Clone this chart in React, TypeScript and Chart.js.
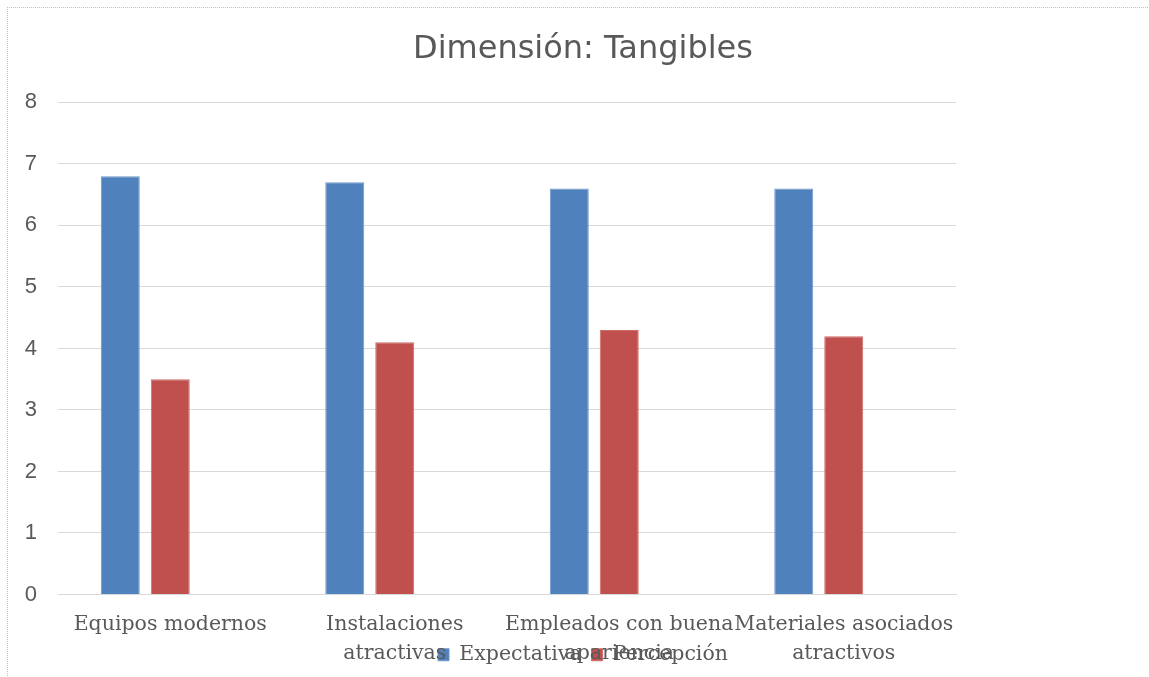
import React, { useEffect, useRef } from "react";
import { Chart, registerables } from "chart.js";

Chart.register(...registerables);

const categories: (string | string[])[] = [
  "Equipos modernos",
  ["Instalaciones", "atractivas"],
  ["Empleados con buena", "apariencia"],
  ["Materiales asociados", "atractivos"],
];
const expectativa = [6.8, 6.7, 6.6, 6.6];
const percepcion = [3.5, 4.1, 4.3, 4.2];
const emptySeries: (number | null)[] = [null, null, null, null];
const yTicks = [0, 1, 2, 3, 4, 5, 6, 7, 8];

const TEXT = "#595959";
const SERIF = "'DejaVu Serif', serif";

const overlapPlugin = {
  id: "overlapLabels",
  afterLayout(chart: any) {
    const x = chart.scales.x;
    if (x) x.bottom = chart.height;
  },
};

export default function App() {
  const ref = useRef<HTMLCanvasElement | null>(null);
  useEffect(() => {
    if (!ref.current) return;
    const chart = new Chart(ref.current, {
      type: "bar",
      plugins: [overlapPlugin],
      data: {
        labels: categories,
        datasets: [
          {
            label: "Expectativa",
            data: expectativa,
            backgroundColor: "#4f81bd",
            borderColor: "#6f97cb",
            borderWidth: 1,
            categoryPercentage: 0.668,
            barPercentage: 0.78,
          },
          {
            label: "Percepción",
            data: percepcion,
            backgroundColor: "#c0504d",
            borderColor: "#cc6d6a",
            borderWidth: 1,
            categoryPercentage: 0.668,
            barPercentage: 0.78,
          },
          {
            label: "",
            data: emptySeries,
            backgroundColor: "#9bbb59",
            categoryPercentage: 0.668,
            barPercentage: 0.78,
          },
        ],
      },
      options: {
        responsive: false,
        animation: false,
        layout: { padding: { left: 17, right: 0, top: 7, bottom: 2 } },
        plugins: {
          title: {
            display: true,
            text: "Dimensión: Tangibles",
            color: TEXT,
            font: { family: "'DejaVu Sans', sans-serif", size: 32, weight: "normal" },
            padding: { top: 23, bottom: 34 },
          },
          legend: {
            position: "bottom",
            labels: {
              color: TEXT,
              font: { family: SERIF, size: 20.5 },
              boxWidth: 11,
              boxHeight: 12,
              padding: 10,
              filter: (item) => item.text !== "",
            },
          },
          tooltip: { enabled: false },
        },
        scales: {
          x: {
            grid: { display: false, drawTicks: false },
            border: { display: true, color: "#d9d9d9", width: 1 },
            ticks: {
              color: TEXT,
              font: { family: SERIF, size: 20.5, lineHeight: 1.42 },
              padding: 16,
              maxRotation: 0,
              autoSkip: false,
            },
            afterFit: (s: any) => {
              s.height = 40;
            },
          },
          y: {
            min: 0,
            max: 8,
            afterBuildTicks: (s: any) => {
              s.ticks = yTicks.map((v) => ({ value: v }));
            },
            afterFit: (s: any) => {
              s.width = 41;
            },
            grid: { color: "#d9d9d9", drawTicks: false, lineWidth: 1 },
            border: { display: false },
            ticks: {
              color: TEXT,
              font: { family: "'Liberation Sans', sans-serif", size: 22 },
              padding: 21,
            },
          },
          y2: {
            position: "right",
            grid: { display: false, drawTicks: false },
            border: { display: false },
            ticks: { display: false },
            afterFit: (s: any) => {
              s.width = 193;
            },
          },
        },
      },
    });
    return () => chart.destroy();
  }, []);

  return (
    <div style={{ position: "absolute", left: 0, top: 0, width: 1149, height: 677, background: "#fff" }}>
      <canvas ref={ref} width={1149} height={677} style={{ position: "absolute", left: 0, top: 0 }} />
      <div
        style={{
          position: "absolute",
          left: 7,
          top: 7,
          width: 1142,
          height: 670,
          borderTop: "1px dotted #bfbfbf",
          borderLeft: "1px dotted #bfbfbf",
          pointerEvents: "none",
        }}
      />
    </div>
  );
}
